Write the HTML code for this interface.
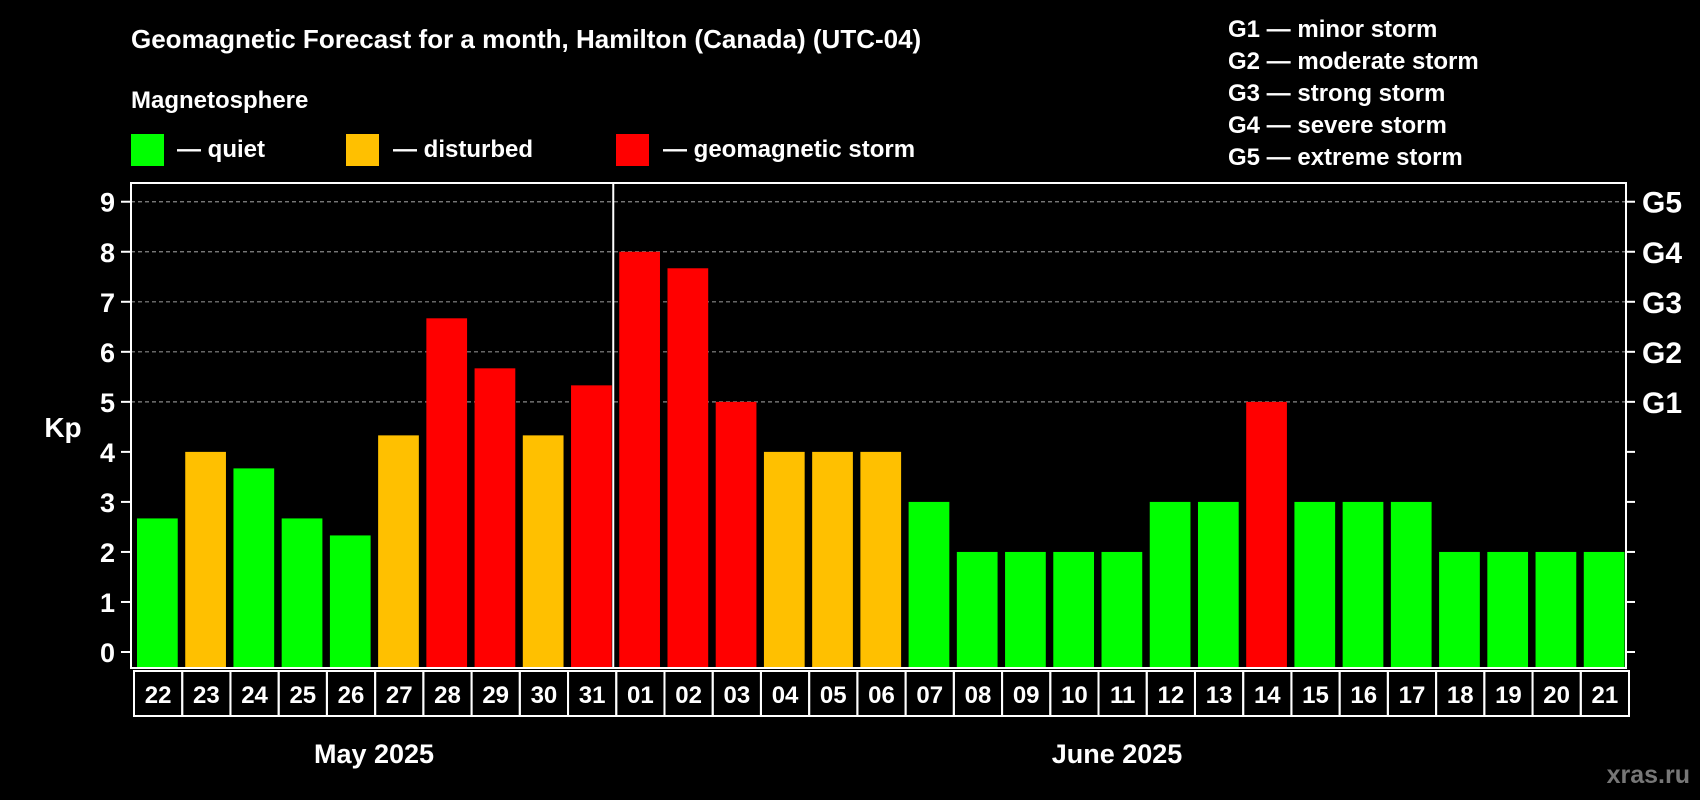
<!DOCTYPE html>
<html><head><meta charset="utf-8"><style>
body{margin:0;background:#000;width:1700px;height:800px;overflow:hidden}
svg{display:block;font-family:"Liberation Sans",sans-serif;font-weight:bold}
</style></head><body>
<svg id="chart" width="1700" height="800">
<text x="131" y="48" fill="#fff" font-size="26">Geomagnetic Forecast for a month, Hamilton (Canada) (UTC-04)</text>
<text x="131" y="108" fill="#fff" font-size="24">Magnetosphere</text>
<rect x="131" y="134" width="33" height="32" fill="#00ff00"/>
<text x="177" y="157" fill="#fff" font-size="24">— quiet</text>
<rect x="346" y="134" width="33" height="32" fill="#ffc000"/>
<text x="393" y="157" fill="#fff" font-size="24">— disturbed</text>
<rect x="616" y="134" width="33" height="32" fill="#ff0000"/>
<text x="663" y="157" fill="#fff" font-size="24">— geomagnetic storm</text>
<g fill="#fff" font-size="24">
<text x="1228" y="37">G1 — minor storm</text>
<text x="1228" y="69">G2 — moderate storm</text>
<text x="1228" y="101">G3 — strong storm</text>
<text x="1228" y="133">G4 — severe storm</text>
<text x="1228" y="165">G5 — extreme storm</text>
</g>
<text x="63" y="437" fill="#fff" font-size="28" text-anchor="middle">Kp</text>
<text x="374" y="763" fill="#fff" font-size="27" text-anchor="middle">May 2025</text>
<text x="1117" y="763" fill="#fff" font-size="27" text-anchor="middle">June 2025</text>
<text x="1690" y="783" fill="#777" font-size="25" text-anchor="end">xras.ru</text>
<g id="plot"></g>
</svg>
<script>
const days=["22","23","24","25","26","27","28","29","30","31","01","02","03","04","05","06","07","08","09","10","11","12","13","14","15","16","17","18","19","20","21"];
const kpValues=[2.67,4,3.67,2.67,2.33,4.33,6.67,5.67,4.33,5.33,8,7.67,5,4,4,4,3,2,2,2,2,3,3,5,3,3,3,2,2,2,2];
const yTicks=[0,1,2,3,4,5,6,7,8,9];
const gLabels=["G1","G2","G3","G4","G5"];
const gLevels=[5,6,7,8,9];
const monthSplitIndex=10;

const NS="http://www.w3.org/2000/svg";
const L=131,R=1626,T=183,B=668,Y0=652,UNIT=50.03;
const slot=(R-L)/days.length;
const y=v=>Y0-v*UNIT;
const x=i=>L+i*slot;
const plot=document.getElementById('plot');
function mk(tag,attrs){const e=document.createElementNS(NS,tag);for(const k in attrs)e.setAttribute(k,attrs[k]);plot.appendChild(e);return e;}
function color(v){return v>=5?"#ff0000":(v>=4?"#ffc000":"#00ff00");}

gLevels.forEach((g,i)=>{
  const ln=mk('line',{x1:L,x2:R,y1:y(g),y2:y(g),stroke:"#888","stroke-width":1.2,"stroke-dasharray":"4,3"});
  
  
  const t=mk('text',{x:1642,y:y(g)+11,fill:"#fff","font-size":30});
  t.textContent=gLabels[i];
  
  
});
kpValues.forEach((v,i)=>{
  const r=mk('rect',{x:x(i)+6,y:y(v),width:slot-7.5,height:B-y(v),fill:color(v)});
  
  
});
yTicks.forEach(v=>{
  const tk=mk('line',{x1:121,x2:L,y1:y(v),y2:y(v),stroke:"#fff","stroke-width":2});
  
  
  const tk2=mk('line',{x1:R,x2:R+9,y1:y(v),y2:y(v),stroke:"#fff","stroke-width":2});
  
  
  const t=mk('text',{x:115,y:y(v)+10,fill:"#fff","font-size":27,"text-anchor":"end"});
  t.textContent=v;
  
  
});
const frame=mk('rect',{x:L,y:T,width:R-L,height:B-T,fill:"none",stroke:"#fff","stroke-width":2});


const div=mk('line',{x1:x(monthSplitIndex),x2:x(monthSplitIndex),y1:T,y2:B,stroke:"#fff","stroke-width":2});


days.forEach((d,i)=>{
  const b=mk('rect',{x:x(i)+3,y:671,width:slot,height:45,fill:"none",stroke:"#fff","stroke-width":2});
  
  
  const t=mk('text',{x:x(i)+3+slot/2,y:703,fill:"#fff","font-size":24,"text-anchor":"middle"});
  t.textContent=d;
  
  
});
</script>
</body></html>
